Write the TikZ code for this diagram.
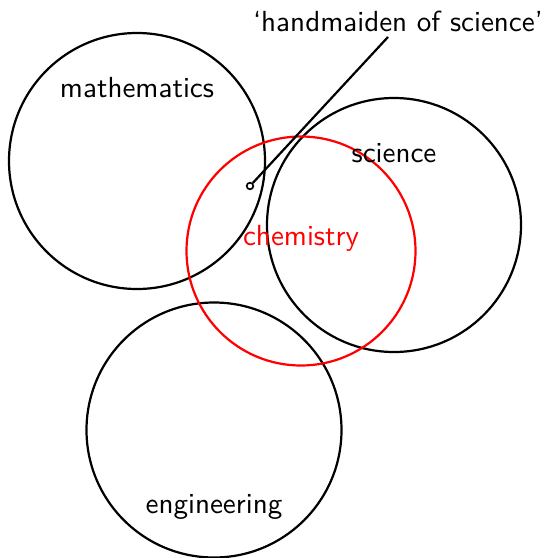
\documentclass[tikz,border=0pt]{standalone}
\usepackage{tikz}
\usetikzlibrary{positioning,calc}
\usepackage{xcolor}

\begin{document}
\begin{tikzpicture}[x=0.0127cm,y=-0.0127cm,thick,font=\sffamily\fontsize{10.5}{12}\selectfont,
    field/.style={draw=black},
    fieldlabel/.style={inner sep=1pt}]
    \useasboundingbox (0,0) rectangle (549,558);
    % Fields
    \draw[field] (137,161) circle (128);
    \draw[field] (394,225) circle (127);
    \draw[field] (214,430) circle (127.5);
    \draw[field,red] (301,251) circle (114.5);

    % Labels
    \node[fieldlabel] (maths) at (137,88) {mathematics};
    \node[fieldlabel] (sci) at (394,153) {science};
    \node[fieldlabel,red] (chem) at (301,238) {chemistry};
    \node[fieldlabel] (eng) at (214,507) {engineering};

    % Annotation
    \node[fieldlabel] (handmaid) at (398,21) {`handmaiden of science'};
    \node[draw,circle,inner sep=0pt,minimum size=2.4pt,line width=0.6pt] (spot) at (250,186) {};
    \coordinate (tip) at (388,37);
    \draw (spot) -- (tip);
\end{tikzpicture}
\end{document}
